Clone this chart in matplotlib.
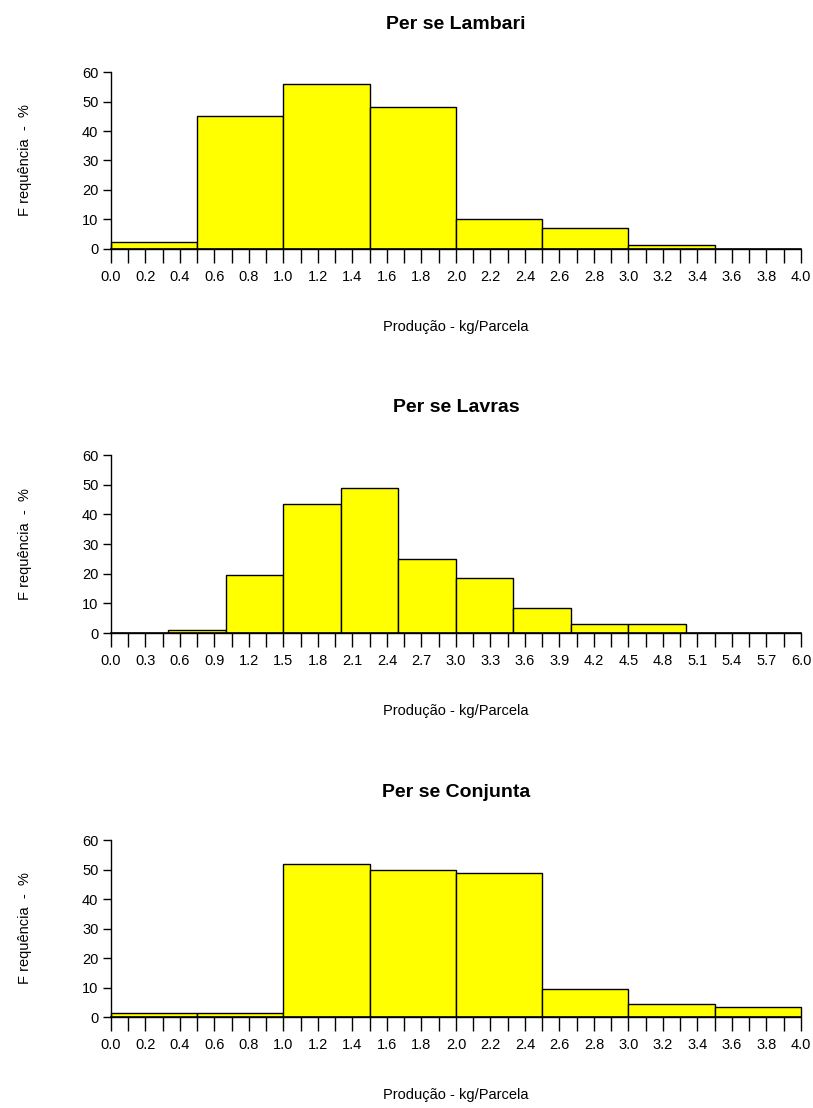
import matplotlib
matplotlib.use("Agg")
import matplotlib.pyplot as plt
import numpy as np

# Frequencias por classe de producao (kg/parcela), classes de 0.5
lambari_edges = [0.0, 0.5, 1.0, 1.5, 2.0, 2.5, 3.0, 3.5, 4.0]
lambari_freq = [2.2, 45, 56, 48, 10, 7.2, 1.2, 0]

lavras_edges = [0.0, 0.5, 1.0, 1.5, 2.0, 2.5, 3.0, 3.5, 4.0, 4.5, 5.0, 5.5, 6.0]
lavras_freq = [0, 1, 19.5, 43.5, 49, 25, 18.5, 8.5, 3.2, 3.2, 0, 0]

conjunta_edges = [0.0, 0.5, 1.0, 1.5, 2.0, 2.5, 3.0, 3.5, 4.0]
conjunta_freq = [1.2, 1.2, 52, 50, 49, 9.5, 4.5, 3.3]

titles = ["Per se Lambari", "Per se Lavras", "Per se Conjunta"]
xlabel = "Produção - kg/Parcela"
ylabel = "F requência  -  %"
yticks = [0, 10, 20, 30, 40, 50, 60]

# no narrow font available, Liberation Sans is the closest
fam = ["Liberation Sans", "DejaVu Sans"]

fig = plt.figure(figsize=(8.13, 11.08), dpi=100)

boxes = [
    [0.1365, 0.7753, 0.8487, 0.1597],
    [0.1365, 0.4287, 0.8487, 0.1606],
    [0.1365, 0.0821, 0.8487, 0.1597],
]
panels = [
    (lambari_edges, lambari_freq, 0.1, 0.2),
    (lavras_edges, lavras_freq, 0.15, 0.3),
    (conjunta_edges, conjunta_freq, 0.1, 0.2),
]

for box, (edges, freq, tick_step, lab_step), title in zip(boxes, panels, titles):
    ax = fig.add_axes(box)
    left = np.array(edges[:-1])
    widths = np.diff(edges)
    ax.bar(left, freq, width=widths, align="edge", color="#ffff00",
           edgecolor="black", linewidth=1.0, clip_on=False, zorder=2)

    xmax = edges[-1]
    ax.set_xlim(0, xmax)
    ax.set_ylim(0, 60)

    for s in ["top", "right"]:
        ax.spines[s].set_visible(False)
    ax.spines["left"].set_bounds(0, 60)
    ax.spines["bottom"].set_bounds(0, xmax)
    ax.spines["bottom"].set_linewidth(1.2)
    ax.spines["left"].set_linewidth(1.0)

    n_ticks = int(round(xmax / tick_step))
    ticks = [i * tick_step for i in range(n_ticks + 1)]
    labels = []
    for t in ticks:
        if abs(t / lab_step - round(t / lab_step)) < 1e-6:
            labels.append("%.1f" % t)
        else:
            labels.append("")
    ax.set_xticks(ticks)
    ax.set_xticklabels(labels, family=fam, fontsize=10.5)
    ax.tick_params(axis="x", length=10, width=1.0, pad=5)

    ax.set_yticks(yticks)
    ax.set_yticklabels([str(v) for v in yticks], family=fam, fontsize=10.5)
    ax.tick_params(axis="y", length=6, width=1.0, pad=3)

    ax.set_title(title, family=fam, fontsize=14, fontweight="bold", pad=31)
    ax.set_xlabel(xlabel, family=fam, fontsize=10.5, labelpad=26)
    ax.set_ylabel(ylabel, family=fam, fontsize=10.5, labelpad=36)

plt.savefig("out.png", dpi=100)
plt.close(fig)
